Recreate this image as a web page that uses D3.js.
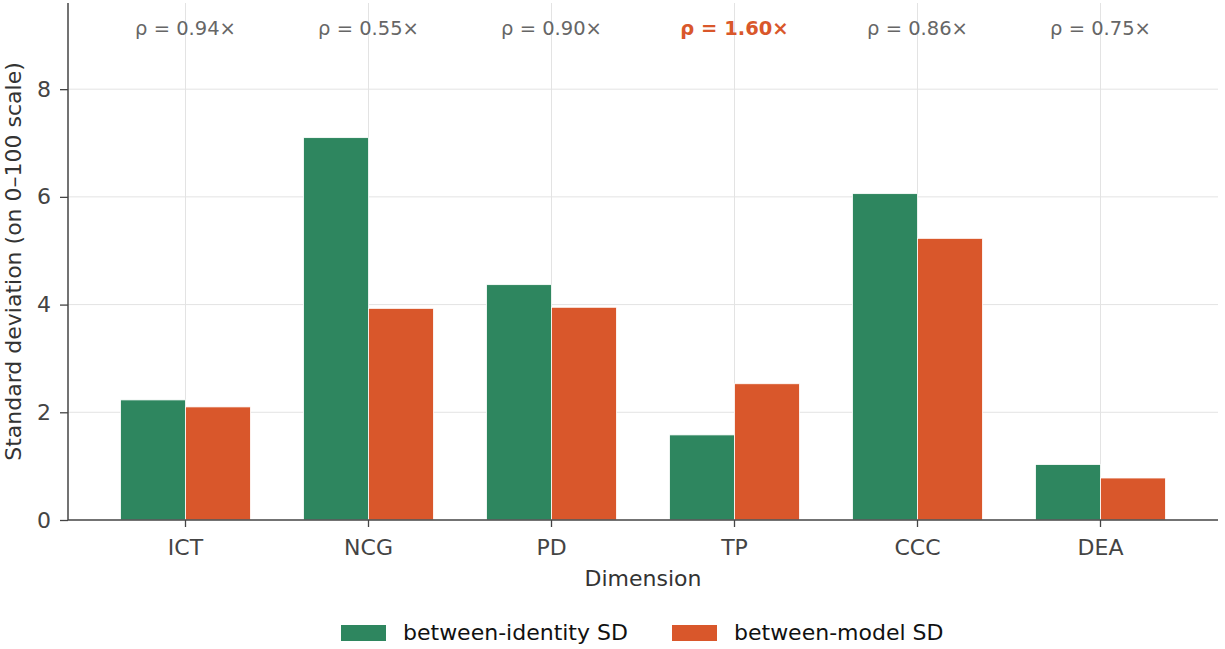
<!DOCTYPE html>
<html>
<head>
  <meta charset="utf-8">
  <title></title>
  <style>
    body,html{
      margin:0;
      padding:0;
      background:#fff;
    }
    svg text{
      font-family: "DejaVu Sans", sans-serif;
    }
  </style>
</head>
<body>
  <div id="container"></div>
  <script src="https://d3js.org/d3.v7.min.js"></script>
  <script type="text/javascript">

    var dimensions = ['ICT', 'NCG', 'PD', 'TP', 'CCC', 'DEA'];
    var identitySD = [2.23, 7.10, 4.37, 1.58, 6.06, 1.03];
    var modelSD = [2.10, 3.93, 3.95, 2.53, 5.23, 0.78];
    var ratioLabels = ['0.94', '0.55', '0.90', '1.60', '0.86', '0.75'];
    var yTicks = [0, 2, 4, 6, 8];
    var seriesNames = ['between-identity SD', 'between-model SD'];

    var colors = {green:'#2e865f', red:'#d9572b', grid:'#e3e3e3', axis:'#444'};

    var width = 1225, height = 649;
    var plotLeft = 68, plotRight = 1218, plotTop = 3, plotBottom = 520;

    var svg = d3.select('#container').append('svg')
      .attr('width', width).attr('height', height)
      .attr('font-family', '"DejaVu Sans", sans-serif');

    var x = d3.scaleBand().domain(dimensions).range([plotLeft+26, plotRight-26]).padding(0);
    var y = d3.scaleLinear().domain([0, 9.6]).range([plotBottom, plotTop]);
    var bw = x.bandwidth()*0.355;

    // grid
    svg.append('g').selectAll('line').data(yTicks.slice(1)).enter().append('line')
      .attr('x1', plotLeft).attr('x2', plotRight)
      .attr('y1', function(d){return y(d);}).attr('y2', function(d){return y(d);})
      .attr('stroke', colors.grid).attr('stroke-width', 1);
    svg.append('g').selectAll('line').data(dimensions).enter().append('line')
      .attr('x1', function(d){return x(d)+x.bandwidth()/2;})
      .attr('x2', function(d){return x(d)+x.bandwidth()/2;})
      .attr('y1', plotTop).attr('y2', plotBottom)
      .attr('stroke', colors.grid).attr('stroke-width', 1);

    // bars
    var bars = svg.append('g');
    dimensions.forEach(function(d, i){
      var cx = x(d) + x.bandwidth()/2;
      bars.append('rect')
        .attr('x', cx-bw).attr('width', bw)
        .attr('y', y(identitySD[i])).attr('height', y(0)-y(identitySD[i]))
        .attr('fill', colors.green).attr('stroke', '#fff').attr('stroke-width', 0.8);
      bars.append('rect')
        .attr('x', cx).attr('width', bw)
        .attr('y', y(modelSD[i])).attr('height', y(0)-y(modelSD[i]))
        .attr('fill', colors.red).attr('stroke', '#fff').attr('stroke-width', 0.8);
    });

    // ratio annotations
    svg.append('g').selectAll('text').data(dimensions).enter().append('text')
      .attr('x', function(d){return x(d)+x.bandwidth()/2;})
      .attr('y', 35)
      .attr('text-anchor', 'middle')
      .attr('font-size', 19.5)
      .attr('font-weight', function(d,i){return +ratioLabels[i] > 1 ? 'bold' : 'normal';})
      .attr('fill', function(d,i){return +ratioLabels[i] > 1 ? colors.red : '#666';})
      .text(function(d,i){return '\u03c1 = ' + ratioLabels[i] + '\u00d7';});

    // axes
    var yAxis = svg.append('g').attr('transform', 'translate('+plotLeft+',0)')
      .call(d3.axisLeft(y).tickValues(yTicks).tickSize(8).tickPadding(9).tickFormat(d3.format('d')));
    yAxis.select('.domain').remove();
    yAxis.selectAll('line').attr('stroke', colors.axis).attr('stroke-width', 1.3);
    yAxis.selectAll('text').attr('font-size', 22).attr('fill', colors.axis).attr('font-family', '"DejaVu Sans", sans-serif');

    var xAxis = svg.append('g').attr('transform', 'translate(0,'+plotBottom+')')
      .call(d3.axisBottom(x).tickSize(7).tickPadding(12));
    xAxis.select('.domain').remove();
    xAxis.selectAll('line').attr('stroke', colors.axis).attr('stroke-width', 1.3);
    xAxis.selectAll('text').attr('font-size', 22).attr('fill', colors.axis).attr('font-family', '"DejaVu Sans", sans-serif');

    svg.append('line').attr('x1', plotLeft).attr('x2', plotLeft).attr('y1', plotTop).attr('y2', plotBottom)
      .attr('stroke', colors.axis).attr('stroke-width', 1.5);
    svg.append('line').attr('x1', plotLeft).attr('x2', plotRight).attr('y1', plotBottom).attr('y2', plotBottom)
      .attr('stroke', colors.axis).attr('stroke-width', 1.5);

    // axis titles
    svg.append('text').attr('x', (plotLeft+plotRight)/2).attr('y', 586)
      .attr('text-anchor', 'middle').attr('font-size', 22).attr('fill', '#333')
      .text('Dimension');
    svg.append('text')
      .attr('transform', 'translate(21,'+((plotTop+plotBottom)/2)+') rotate(-90)')
      .attr('text-anchor', 'middle').attr('font-size', 22).attr('fill', '#333')
      .text('Standard deviation (on 0\u2013100 scale)');

    // legend
    var legend = svg.append('g');
    var legItems = [{name:seriesNames[0], c:colors.green, x:341}, {name:seriesNames[1], c:colors.red, x:672}];
    legItems.forEach(function(l){
      legend.append('rect').attr('x', l.x).attr('y', 625).attr('width', 45).attr('height', 16).attr('fill', l.c);
      legend.append('text').attr('x', l.x+62).attr('y', 640).attr('font-size', 22).attr('fill', '#111').text(l.name);
    });

  </script>
</body>
</html>
